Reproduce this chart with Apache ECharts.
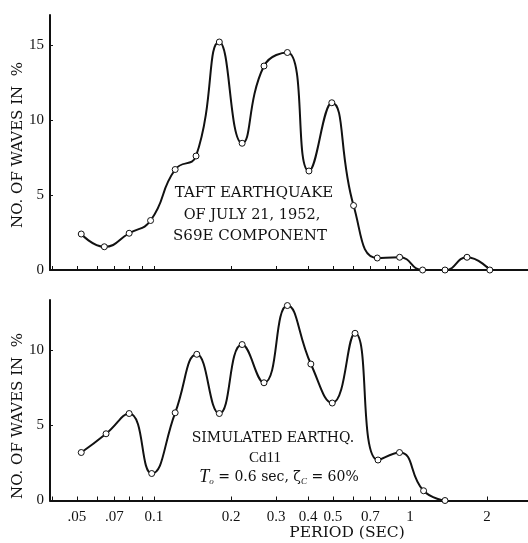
<!DOCTYPE html>
<html>
<head>
<meta charset="utf-8">
<script src="https://cdn.jsdelivr.net/npm/echarts@6/dist/echarts.min.js"></script>
<style>
html,body{margin:0;padding:0;background:#fff;}
#c{width:528px;height:543px;}
</style>
</head>
<body>
<div id="c"></div>
<script>
// Taft earthquake (top panel)
const taftPeriods = [0.052,0.064,0.080,0.097,0.121,0.146,0.180,0.221,0.269,0.332,0.403,0.495,0.602,0.745,0.911,1.12,1.37,1.67,2.05];
const taftValues  = [2.4,1.55,2.45,3.3,6.7,7.6,15.2,8.45,13.6,14.5,6.6,11.15,4.3,0.8,0.85,0,0,0.85,0];
// Simulated earthquake Cd11 (bottom panel)
const simPeriods = [0.052,0.065,0.080,0.098,0.121,0.147,0.180,0.221,0.269,0.332,0.41,0.497,0.61,0.75,0.91,1.13,1.37];
const simValues  = [3.2,4.45,5.8,1.8,5.85,9.75,5.8,10.4,7.85,13.0,9.1,6.5,11.15,2.7,3.2,0.65,0];
// axis ticks / labels
const xTickValues  = [0.04,0.05,0.06,0.07,0.08,0.09,0.1,0.2,0.3,0.4,0.5,0.6,0.7,0.8,0.9,1,2];
const xLabelValues = [0.05,0.07,0.1,0.2,0.3,0.4,0.5,0.7,1,2];
const yTicksTop    = [0,5,10,15];
const yTicksBottom = [0,5,10];
const yName = 'NO. OF WAVES IN  %';

const serif = '"Liberation Serif","DejaVu Serif",serif';
const wide = '"DejaVu Serif","Liberation Serif",serif';
const ink = '#111';

function pairs(xs, ys){ return xs.map((x,i)=>[x, ys[i]]); }

function xAxisDef(gridIndex, showLabels){
  return {
    type:'log', logBase:10, gridIndex,
    min:0.03926, max:2.89,
    axisLine:{show:true, onZero:false, lineStyle:{color:ink, width:2}},
    axisTick:{show:true, inside:true, length:4, customValues:xTickValues, lineStyle:{color:ink, width:1}},
    axisLabel:{show:showLabels, customValues:xLabelValues, margin:9,
      fontFamily:serif, fontSize:15, color:ink,
      formatter:(v)=> v < 0.1 ? String(v).replace(/^0/,'') : String(v)},
    minorTick:{show:false}, splitLine:{show:false}
  };
}
function yAxisDef(gridIndex, max, ticks){
  return {
    type:'value', gridIndex, min:0, max,
    axisLine:{show:true, lineStyle:{color:ink, width:2}},
    axisTick:{show:true, inside:true, length:3, customValues:ticks, lineStyle:{color:ink}},
    axisLabel:{customValues:ticks, margin:6, fontFamily:serif, fontSize:15, color:ink},
    splitLine:{show:false}
  };
}
function seriesDef(idx, data){
  return {
    type:'line', xAxisIndex:idx, yAxisIndex:idx, data,
    smooth:0.5,
    symbol:'circle', symbolSize:6,
    itemStyle:{color:'#fff', borderColor:ink, borderWidth:1},
    lineStyle:{color:ink, width:2},
    z:3
  };
}
function txt(x, y, text, font, extra){
  return {type:'text', x, y, style:Object.assign({text, font, fill:ink, align:'center', verticalAlign:'middle'}, extra||{})};
}

const chart = echarts.init(document.getElementById('c'), null, {renderer:'canvas'});
chart.setOption({
  backgroundColor:'#fff',
  animation:false,
  grid:[
    {left:50, right:0, top:15, height:255},
    {left:50, right:0, top:300, height:200.5}
  ],
  xAxis:[xAxisDef(0,false), xAxisDef(1,true)],
  yAxis:[yAxisDef(0,17,yTicksTop), yAxisDef(1,13.37,yTicksBottom)],
  series:[seriesDef(0,pairs(taftPeriods,taftValues)), seriesDef(1,pairs(simPeriods,simValues))],
  graphic:[
    Object.assign(txt(18,145,yName,'15px '+wide), {rotation:Math.PI/2}),
    Object.assign(txt(18,416,yName,'15px '+wide), {rotation:Math.PI/2}),
    txt(254,193,'TAFT EARTHQUAKE','15px '+wide),
    txt(252,215,'OF JULY 21, 1952,','14.5px '+wide),
    txt(250,236,'S69E COMPONENT','15px '+wide),
    txt(273,438,'SIMULATED EARTHQ.','14px '+wide),
    txt(265,458,'Cd11','15px '+serif),
    txt(279,477,'{i|T}{s|o} = 0.6 sec, ζ{s|C} = 60%','14px '+wide, {
      rich:{
        i:{fontFamily:serif, fontStyle:'italic', fontSize:18, fill:ink},
        s:{fontFamily:serif, fontStyle:'italic', fontSize:9, fill:ink, verticalAlign:'bottom', padding:[6,0,0,0]}
      }}),
    txt(347,533,'PERIOD (SEC)','15.5px '+wide)
  ]
});
</script>
</body>
</html>
